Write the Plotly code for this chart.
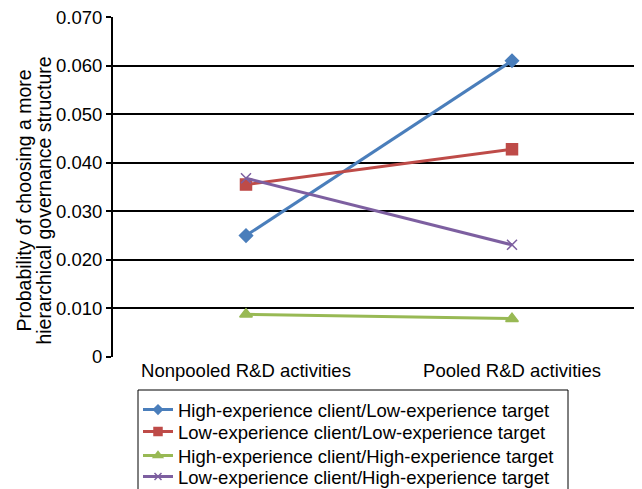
import plotly.graph_objects as go

categories = ["Nonpooled R&D activities", "Pooled R&D activities"]
series_names = [
    "High-experience client/Low-experience target",
    "Low-experience client/Low-experience target",
    "High-experience client/High-experience target",
    "Low-experience client/High-experience target",
]
hi_client_lo_target = [0.0250, 0.0610]
lo_client_lo_target = [0.0355, 0.0428]
hi_client_hi_target = [0.0088, 0.0079]
lo_client_hi_target = [0.0368, 0.0231]
y_ticks = [0, 0.01, 0.02, 0.03, 0.04, 0.05, 0.06, 0.07]
y_tick_labels = ["0", "0.010", "0.020", "0.030", "0.040", "0.050", "0.060", "0.070"]
y_title_lines = ["Probability of choosing a more", "hierarchical governance structure"]

values = [hi_client_lo_target, lo_client_lo_target, hi_client_hi_target, lo_client_hi_target]
colors = ["#4a7ebb", "#be4b48", "#98b954", "#7d5fa0"]
symbols = ["diamond", "square", "triangle-up", "x-thin"]
sizes = [10, 11, 11, 10]
legend_sizes = [7, 8, 8, 7]
legend_ids = ["legend", "legend2", "legend3", "legend4"]

W, H = 642, 489
ML, MR, MT, MB = 105, 5, 9, 140
PW, PH = W - ML - MR, H - MT - MB

fig = go.Figure()
for name, v, c, s, sz in zip(series_names, values, colors, symbols, sizes):
    fig.add_trace(go.Scatter(
        x=categories, y=v, name=name, mode="lines+markers", showlegend=False,
        line=dict(color=c, width=3),
        marker=dict(symbol=s, size=sz, color=c, line=dict(color=c, width=1.5)),
    ))
# legend entries (smaller markers, as in the reference)
for name, c, s, lsz, lg in zip(series_names, colors, symbols, legend_sizes, legend_ids):
    fig.add_trace(go.Scatter(
        x=[None], y=[None], name=name, mode="lines+markers", legend=lg,
        line=dict(color=c, width=3),
        marker=dict(symbol=s, size=lsz, color=c, line=dict(color=c, width=1.5)),
    ))

legend_left = 130
row_centers = [402, 424, 448, 469]
legend_layout = {}
for lg, yc in zip(legend_ids, row_centers):
    legend_layout[lg] = dict(
        xref="container", yref="container",
        x=legend_left / W, y=1 - yc / H, xanchor="left", yanchor="middle",
        borderwidth=0, bgcolor="rgba(0,0,0,0)",
        font=dict(size=18.5, color="black"), itemsizing="trace",
    )

annotations = []
for line_text, xc in zip(y_title_lines, [16, 36]):
    annotations.append(dict(
        text=line_text, textangle=-90, showarrow=False,
        xref="paper", yref="paper",
        x=(xc - ML) / PW, y=0.46, xanchor="center", yanchor="middle",
        font=dict(size=19.5, color="black"),
    ))

fig.update_layout(
    width=W, height=H,
    margin=dict(l=ML, r=MR, t=MT, b=MB, autoexpand=False),
    paper_bgcolor="white", plot_bgcolor="white",
    font=dict(family="Liberation Sans, Arial, sans-serif", size=18.5, color="black"),
    showlegend=True,
    xaxis=dict(
        type="category", range=[-0.5, 1.5], showgrid=False,
        showline=False, ticks="", zeroline=False, automargin=False,
        tickfont=dict(size=18.5),
    ),
    yaxis=dict(
        range=[0, 0.07002], tickvals=y_ticks, ticktext=y_tick_labels,
        showgrid=True, gridcolor="black", gridwidth=2,
        showline=True, linecolor="black", linewidth=2,
        ticks="outside", ticklen=5, tickcolor="black", tickwidth=2,
        zeroline=False, tickfont=dict(size=18.5), automargin=False,
        ticklabeloverflow="allow",
    ),
    annotations=annotations,
    shapes=[dict(
        type="rect", xref="paper", yref="paper",
        x0=(legend_left - ML) / PW, x1=(560 - ML) / PW,
        y0=-(487 - (H - MB)) / PH, y1=-(382 - (H - MB)) / PH,
        line=dict(color="black", width=1), fillcolor="rgba(0,0,0,0)",
        layer="above",
    )],
    **legend_layout,
)

fig.write_html("out.html")
